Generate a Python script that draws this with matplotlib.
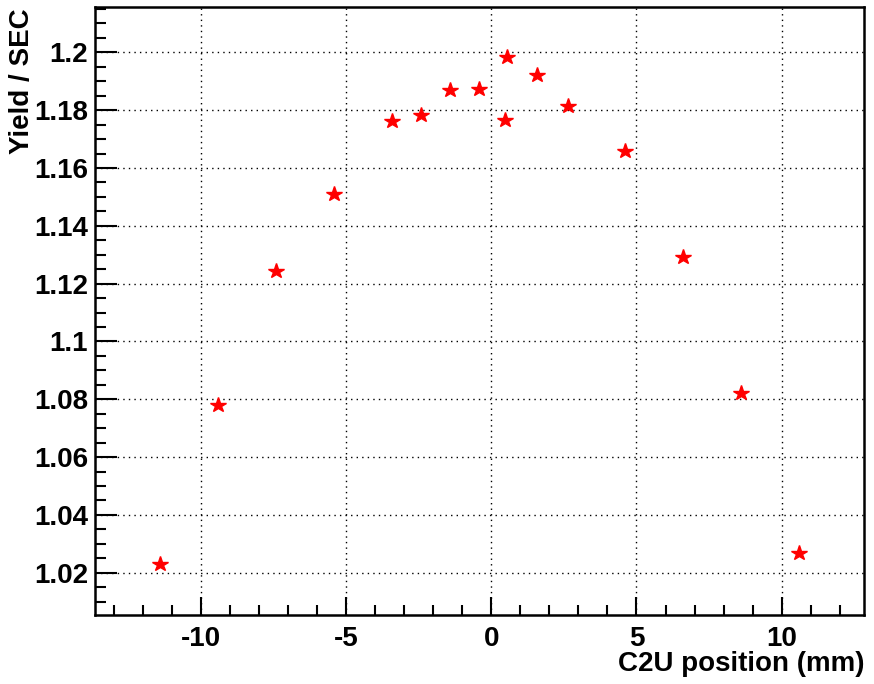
import matplotlib
matplotlib.use("Agg")
import matplotlib.pyplot as plt
from matplotlib.ticker import MultipleLocator, FuncFormatter

# Data
positions = [-11.43, -9.43, -7.43, -5.43, -3.43, -2.44, -1.43, -0.43, 0.48, 0.54,
             1.56, 2.63, 4.6, 6.6, 8.6, 10.6]
yields = [1.0230, 1.0780, 1.1243, 1.1510, 1.1762, 1.1784, 1.1869, 1.1873, 1.1766, 1.1984,
          1.1923, 1.1813, 1.1660, 1.1292, 1.0820, 1.0268]
x_label = "C2U position (mm)"
y_label = "Yield / SEC"
x_range = (-13.66, 12.84)
y_range = (1.00537, 1.2157)

plt.rcParams['font.family'] = ['Liberation Sans', 'DejaVu Sans']
plt.rcParams['font.weight'] = 'bold'

W, H = 874, 684
fig = plt.figure(figsize=(W / 100, H / 100), dpi=100)
ax = fig.add_axes([95 / W, (H - 615) / H, (864 - 95) / W, (615 - 7) / H])

ax.plot(positions, yields, linestyle='none', marker='*', color='red',
        markersize=11.5, markeredgewidth=1.0, zorder=3)

ax.set_xlim(*x_range)
ax.set_ylim(*y_range)

ax.xaxis.set_major_locator(MultipleLocator(5))
ax.xaxis.set_minor_locator(MultipleLocator(1))
ax.yaxis.set_major_locator(MultipleLocator(0.02))
ax.yaxis.set_minor_locator(MultipleLocator(0.005))

def yfmt(v, pos):
    s = f"{v:.2f}".rstrip('0').rstrip('.')
    return s
ax.yaxis.set_major_formatter(FuncFormatter(yfmt))
ax.xaxis.set_major_formatter(FuncFormatter(lambda v, p: f"{v:g}"))

ax.grid(True, which='major', linestyle=(0, (1, 3)), color='black', linewidth=1.0)
ax.set_axisbelow(True)

ax.tick_params(axis='both', which='major', direction='in', width=1.5,
               labelsize=20, top=False, right=False)
ax.tick_params(axis='y', which='major', length=16, pad=5)
ax.tick_params(axis='x', which='major', length=13, pad=8)
ax.tick_params(axis='y', which='minor', direction='in', length=8, width=1.5, right=False)
ax.tick_params(axis='x', which='minor', direction='in', length=7, width=1.5, top=False)

for lab in ax.get_xticklabels() + ax.get_yticklabels():
    lab.set_fontweight('bold')

for sp in ax.spines.values():
    sp.set_linewidth(1.8)

fig.text(864 / W, 1 - 664 / H, x_label, ha='right', va='center',
         fontsize=20, fontweight='bold')
fig.text(22 / W, 1 - 8 / H, y_label, ha='center', va='top', rotation=90,
         fontsize=20, fontweight='bold')

fig.savefig("out.png", dpi=100)
